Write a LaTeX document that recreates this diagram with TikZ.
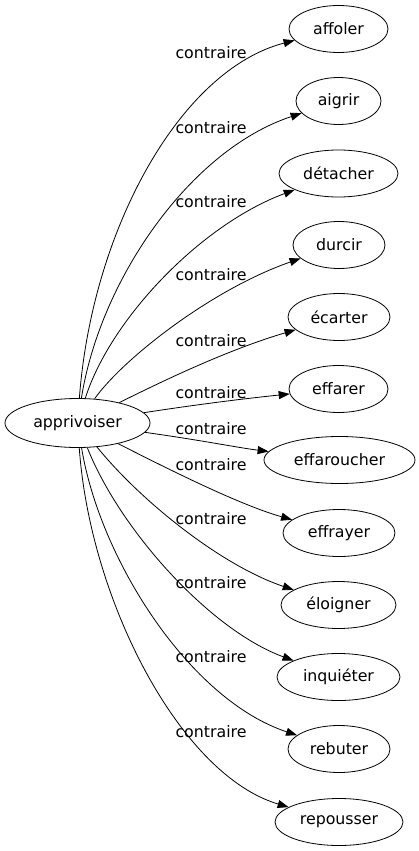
\documentclass[tikz,border=0pt]{standalone}
\usepackage{fontspec}
\setmainfont{DejaVu Sans}
\usetikzlibrary{shapes.geometric,arrows.meta}
\begin{document}
\begin{tikzpicture}[x=1pt,y=-1pt,
  word/.style={draw,ellipse,line width=0.8pt,inner sep=0pt,minimum height=47pt,font=\fontsize{15.8}{19}\selectfont},
  lbl/.style={font=\fontsize{15.8}{19}\selectfont,inner sep=0pt},
  edge/.style={draw,line width=0.8pt,-{Triangle[length=11pt,width=8pt]}}]
\useasboundingbox (0,0) rectangle (418,851);
\node[word,minimum width=145pt,minimum height=49pt] (src) at (77.5,423) {apprivoiser};
\node[word,minimum width=99pt]  (t1)  at (338.5,29)  {affoler};
\node[word,minimum width=85pt]  (t2)  at (338.5,101) {aigrir};
\node[word,minimum width=119pt] (t3)  at (338.5,173.5) {détacher};
\node[word,minimum width=92pt]  (t4)  at (339,245)   {durcir};
\node[word,minimum width=102pt] (t5)  at (339,317)   {écarter};
\node[word,minimum width=99pt]  (t6)  at (338.5,389) {effarer};
\node[word,minimum width=151pt] (t7)  at (339.5,460) {effaroucher};
\node[word,minimum width=112pt] (t8)  at (339,533)   {effrayer};
\node[word,minimum width=115pt] (t9)  at (338.5,605) {éloigner};
\node[word,minimum width=123pt] (t10) at (338.5,677) {inquiéter};
\node[word,minimum width=102pt] (t11) at (339,749)   {rebuter};
\node[word,minimum width=128pt] (t12) at (339,822)   {repousser};
\draw[edge] (src) .. controls (92,230) and (180,70) .. (t1);
\draw[edge] (src) .. controls (100,280) and (190,150) .. (t2);
\draw[edge] (src) .. controls (110,320) and (200,225) .. (t3);
\draw[edge] (src) .. controls (122,360) and (210,290) .. (t4);
\draw[edge] (src) .. controls (145,390) and (220,352) .. (t5);
\draw[edge] (src) .. controls (200,404) and (250,398) .. (t6);
\draw[edge] (src) .. controls (200,440) and (240,448) .. (t7);
\draw[edge] (src) .. controls (170,470) and (240,505) .. (t8);
\draw[edge] (src) .. controls (140,500) and (220,565) .. (t9);
\draw[edge] (src) .. controls (120,530) and (210,630) .. (t10);
\draw[edge] (src) .. controls (100,560) and (190,700) .. (t11);
\draw[edge] (src) .. controls (90,600) and (180,775) .. (t12);
\node[lbl] (l1)  at (211,52.5)  {contraire};
\node[lbl] (l2)  at (211,128)   {contraire};
\node[lbl] (l3)  at (211,202)   {contraire};
\node[lbl] (l4)  at (211,275)   {contraire};
\node[lbl] (l5)  at (211,341)   {contraire};
\node[lbl] (l6)  at (211,393)   {contraire};
\node[lbl] (l7)  at (211,428.5) {contraire};
\node[lbl] (l8)  at (211,465)   {contraire};
\node[lbl] (l9)  at (211,519)   {contraire};
\node[lbl] (l10) at (211,582.5) {contraire};
\node[lbl] (l11) at (211,657)   {contraire};
\node[lbl] (l12) at (211,731.5) {contraire};
\end{tikzpicture}
\end{document}
